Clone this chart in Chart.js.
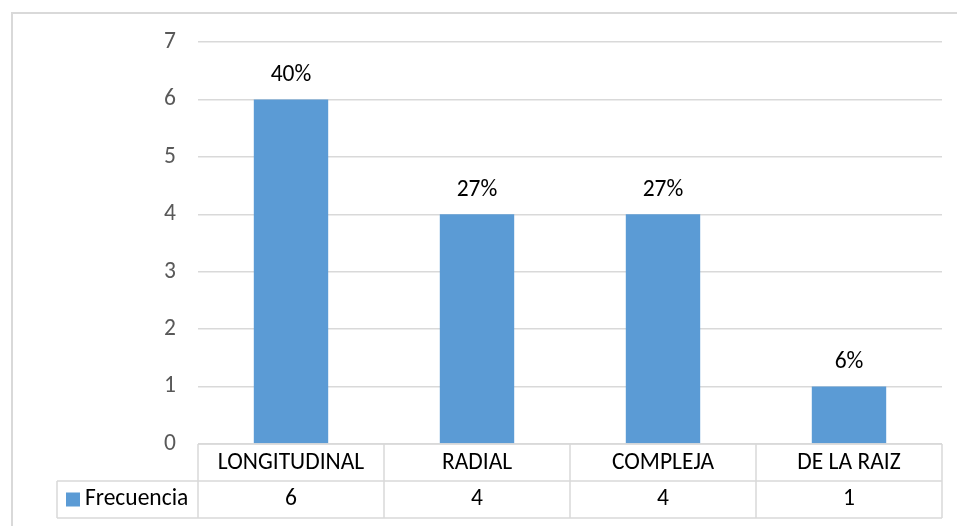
<!DOCTYPE html>
<html>
<head>
<meta charset="utf-8">
<title>Frecuencia</title>
<script src="https://cdn.jsdelivr.net/npm/chart.js@4"></script>
<style>
  html, body { margin: 0; padding: 0; background: #fff; }
  #wrap { width: 957px; height: 526px; }
</style>
</head>
<body>
<div id="wrap"><canvas id="chart" width="957" height="526"></canvas></div>
<script>
// ---- data ----
const categories = ['LONGITUDINAL', 'RADIAL', 'COMPLEJA', 'DE LA RAIZ'];
const frecuencia = [6, 4, 4, 1];
const percentLabels = ['40%', '27%', '27%', '6%'];
const seriesName = 'Frecuencia';
const yMin = 0, yMax = 7, yStep = 1;

const BAR_COLOR = '#5b9bd5';
const LINE_COLOR = '#d9d9d9';
const FONT = 'Carlito, Lato, sans-serif';
const FONT_SIZE = 23.5;
const ROW_H = 37;

// percent labels over bars + data table under the axis + outer frame
const tablePlugin = {
    id: 'dataTable',
    afterDraw(chart) {
        const ctx = chart.ctx;
        const area = chart.chartArea;
        const x = chart.scales.x;
        const meta = chart.getDatasetMeta(0);
        const n = categories.length;
        const colW = (area.right - area.left) / n;
        const top = area.bottom;
        const mid = top + ROW_H;
        const bot = top + ROW_H * 2;
        const legendLeft = 57;

        ctx.save();

        // outer frame (top + left edges only)
        ctx.strokeStyle = LINE_COLOR;
        ctx.lineWidth = 2;
        ctx.beginPath();
        ctx.moveTo(12, 526);
        ctx.lineTo(12, 13);
        ctx.lineTo(957, 13);
        ctx.stroke();

        // table grid
        ctx.lineWidth = 1.5;
        ctx.beginPath();
        ctx.moveTo(area.left, top); ctx.lineTo(area.right, top);
        ctx.moveTo(legendLeft, mid); ctx.lineTo(area.right, mid);
        ctx.moveTo(legendLeft, bot); ctx.lineTo(area.right, bot);
        ctx.moveTo(legendLeft, mid); ctx.lineTo(legendLeft, bot);
        for (let i = 0; i <= n; i++) {
            const cx = area.left + colW * i;
            ctx.moveTo(cx, top); ctx.lineTo(cx, bot);
        }
        ctx.stroke();

        // legend key cell
        ctx.fillStyle = BAR_COLOR;
        ctx.fillRect(66, (mid + bot) / 2 - 7, 14, 14);
        ctx.fillStyle = '#000';
        ctx.font = FONT_SIZE + 'px ' + FONT;
        ctx.textBaseline = 'middle';
        ctx.textAlign = 'left';
        ctx.fillText(seriesName, 85, (mid + bot) / 2);

        // values row
        ctx.textAlign = 'center';
        frecuencia.forEach((v, i) => {
            ctx.fillText(String(v), x.getPixelForValue(i), (mid + bot) / 2);
        });

        // percent labels above bars
        meta.data.forEach((bar, i) => {
            ctx.fillText(percentLabels[i], bar.x, bar.y - 24);
        });

        ctx.restore();
    }
};

new Chart(document.getElementById('chart'), {
    type: 'bar',
    data: {
        labels: categories,
        datasets: [{
            label: seriesName,
            data: frecuencia,
            backgroundColor: BAR_COLOR,
            barPercentage: 0.4,
            categoryPercentage: 1
        }]
    },
    options: {
        responsive: false,
        animation: false,
        events: [],
        layout: { padding: { left: 0, top: 42, right: 15, bottom: 8 } },
        plugins: {
            legend: { display: false },
            tooltip: { enabled: false }
        },
        scales: {
            x: {
                grid: { display: false, drawTicks: false },
                border: { display: false },
                ticks: { color: '#000', font: { family: FONT, size: FONT_SIZE }, padding: 5, maxRotation: 0 },
                afterFit(scale) { scale.height = ROW_H * 2; }
            },
            y: {
                min: yMin,
                max: yMax,
                grid: { color: LINE_COLOR, lineWidth: 1.5, drawTicks: false },
                border: { display: false },
                ticks: { stepSize: yStep, color: '#595959', font: { family: FONT, size: FONT_SIZE }, padding: 22 },
                afterFit(scale) { scale.width = 198; }
            }
        }
    },
    plugins: [tablePlugin]
});
</script>
</body>
</html>
